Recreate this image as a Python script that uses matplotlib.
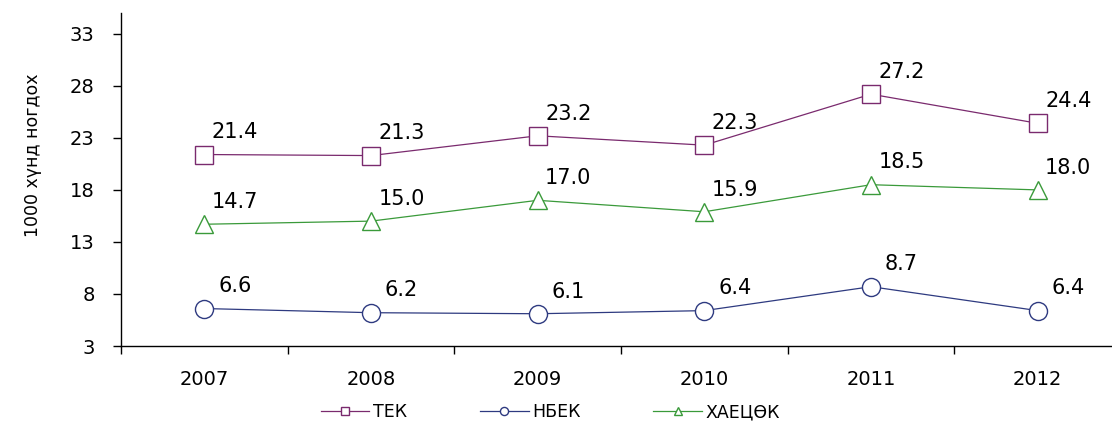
import matplotlib
matplotlib.use("Agg")
import matplotlib.pyplot as plt
from matplotlib.ticker import FixedLocator

plt.rcParams['font.family'] = ['DejaVu Sans']

years = ['2007', '2008', '2009', '2010', '2011', '2012']
tek = [21.4, 21.3, 23.2, 22.3, 27.2, 24.4]
nbek = [6.6, 6.2, 6.1, 6.4, 8.7, 6.4]
khaets = [14.7, 15.0, 17.0, 15.9, 18.5, 18.0]
y_ticks = [3, 8, 13, 18, 23, 28, 33]

series = [
    ('ТЕК', tek, '#7a2a6e', 's'),
    ('НБЕК', nbek, '#2e3a80', 'o'),
    ('ХАЕЦӨК', khaets, '#3a9a3a', '^'),
]

W, H = 1112, 430
fig = plt.figure(figsize=(W / 100, H / 100), dpi=100)
# axes box in pixels: left 121, right 1121 (runs past the edge), top 13, bottom 346
ax = fig.add_axes([121 / W, 1 - 346 / H, 1000 / W, 333 / H])

x = list(range(len(years)))
for name, vals, col, mk in series:
    ax.plot(x, vals, color=col, lw=0.9, marker=mk, ms=13, mfc='white',
            mec=col, mew=1.0, label=name, zorder=3)
    for xi, v in zip(x, vals):
        ax.annotate(f'{v:.1f}', (xi, v), xytext=(22, 16), textcoords='offset points',
                    ha='center', va='center', fontsize=15, color='black')

ax.set_xlim(-0.5, len(years) - 0.5)
ax.set_ylim(3, 35)
ax.set_yticks(y_ticks)
ax.set_xticks(x)
ax.set_xticklabels(years, fontsize=14)
ax.xaxis.set_minor_locator(FixedLocator([i - 0.5 for i in range(len(years) + 1)]))
ax.tick_params(axis='x', which='major', length=0, pad=17)
ax.tick_params(axis='x', which='minor', length=6, direction='out', width=1)
ax.tick_params(axis='y', length=6, direction='out', width=1, labelsize=14, pad=13)
for s in ['top', 'right']:
    ax.spines[s].set_visible(False)
for s in ['left', 'bottom']:
    ax.spines[s].set_linewidth(1.0)
ax.set_ylabel('1000 хүнд ногдох', fontsize=12.5)
ax.yaxis.set_label_coords(-0.079, 0.574)

handles, labels = ax.get_legend_handles_labels()
leg = fig.legend(handles, labels, loc='center', bbox_to_anchor=(0.495, 1 - 412 / H),
                 ncol=3, frameon=False, fontsize=12.5, markerscale=0.45,
                 handlelength=2.8, columnspacing=4.2, handletextpad=0.2)

fig.savefig('out.png', dpi=100)
